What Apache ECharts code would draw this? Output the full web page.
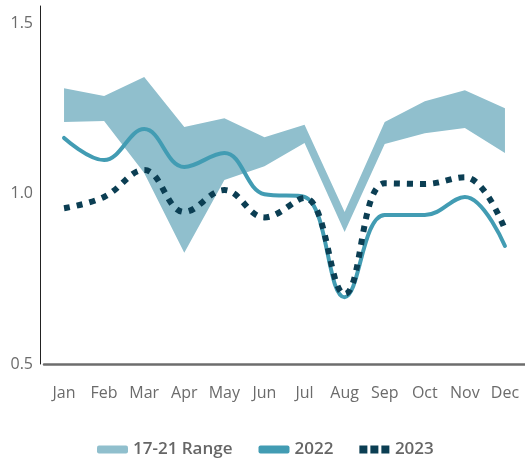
<!DOCTYPE html>
<html>
<head>
<meta charset="utf-8">
<script src="https://cdn.jsdelivr.net/npm/echarts@6/dist/echarts.min.js"></script>
<style>
  html, body { margin: 0; padding: 0; background: #fff; }
  #chart { width: 525px; height: 460px; }
</style>
</head>
<body>
<div id="chart"></div>
<script>
const months = ['Jan', 'Feb', 'Mar', 'Apr', 'May', 'Jun', 'Jul', 'Aug', 'Sep', 'Oct', 'Nov', 'Dec'];
const rangeLow = [1.21, 1.213, 1.06, 0.826, 1.04, 1.08, 1.148, 0.887, 1.145, 1.177, 1.192, 1.119];
const rangeHigh = [1.309, 1.286, 1.342, 1.195, 1.221, 1.165, 1.202, 0.946, 1.21, 1.271, 1.303, 1.25];
const y2022 = [1.163, 1.098, 1.189, 1.078, 1.119, 0.998, 0.99, 0.696, 0.937, 0.937, 0.99, 0.846];
const y2023 = [0.957, 0.99, 1.069, 0.946, 1.01, 0.93, 0.987, 0.705, 1.03, 1.028, 1.048, 0.895];

const bandColor = '#90bfcd';
const color2022 = '#429cb3';
const color2023 = '#0b3e53';

// band is drawn as a stack: hidden lower edge + (upper - lower)
const rangeSpan = rangeHigh.map((v, i) => +(v - rangeLow[i]).toFixed(3));

const chart = echarts.init(document.getElementById('chart'));
chart.setOption({
  animation: false,
  textStyle: { fontFamily: 'Open Sans' },
  grid: { left: 44, right: -3, top: 6, bottom: 96 },
  legend: {
    top: 436,
    left: 92,
    itemWidth: 31,
    itemHeight: 8,
    itemGap: 26,
    textStyle: { color: '#666', fontSize: 17, fontWeight: 600, fontFamily: 'Open Sans' },
    data: [
      { name: '17-21 Range', icon: 'roundRect', itemStyle: { color: bandColor } },
      { name: '2022', icon: 'roundRect', itemStyle: { color: color2022 } },
      { name: '2023', icon: 'path://M0,0h8v8h-8z M11,0h8v8h-8z M22,0h8v8h-8z', itemStyle: { color: color2023 } }
    ]
  },
  xAxis: {
    type: 'category',
    data: months,
    boundaryGap: true,
    axisLine: { lineStyle: { color: '#6d6d6d', width: 2.5 } },
    axisTick: { inside: true, length: 7, interval: 0, lineStyle: { color: '#d4d4d4' } },
    axisLabel: { color: '#6b6b6b', fontSize: 16, margin: 21, interval: 0, fontFamily: 'Open Sans' }
  },
  yAxis: {
    type: 'value',
    min: 0.5,
    max: 1.55,
    interval: 0.5,
    offset: 4,
    axisLine: { show: true, lineStyle: { color: '#222', width: 1 } },
    axisTick: { show: false },
    splitLine: { show: false },
    axisLabel: {
      color: '#6b6b6b', fontSize: 16, margin: 7, fontFamily: 'Open Sans',
      showMaxLabel: false,
      formatter: v => v.toFixed(1)
    }
  },
  series: [
    {
      name: 'base',
      type: 'line',
      stack: 'range',
      data: rangeLow,
      symbol: 'none',
      silent: true,
      lineStyle: { opacity: 0 }
    },
    {
      name: '17-21 Range',
      type: 'line',
      stack: 'range',
      data: rangeSpan,
      symbol: 'none',
      itemStyle: { color: bandColor },
      lineStyle: { opacity: 0 },
      areaStyle: { color: bandColor, opacity: 1 }
    },
    {
      name: '2022',
      type: 'line',
      data: y2022,
      smooth: 0.4,
      symbol: 'none',
      itemStyle: { color: color2022 },
      lineStyle: { color: color2022, width: 4, cap: 'round' }
    },
    {
      name: '2023',
      type: 'line',
      data: y2023,
      smooth: 0.4,
      symbol: 'none',
      itemStyle: { color: color2023 },
      lineStyle: { color: color2023, width: 6, type: [6, 7] }
    }
  ]
});
</script>
</body>
</html>
